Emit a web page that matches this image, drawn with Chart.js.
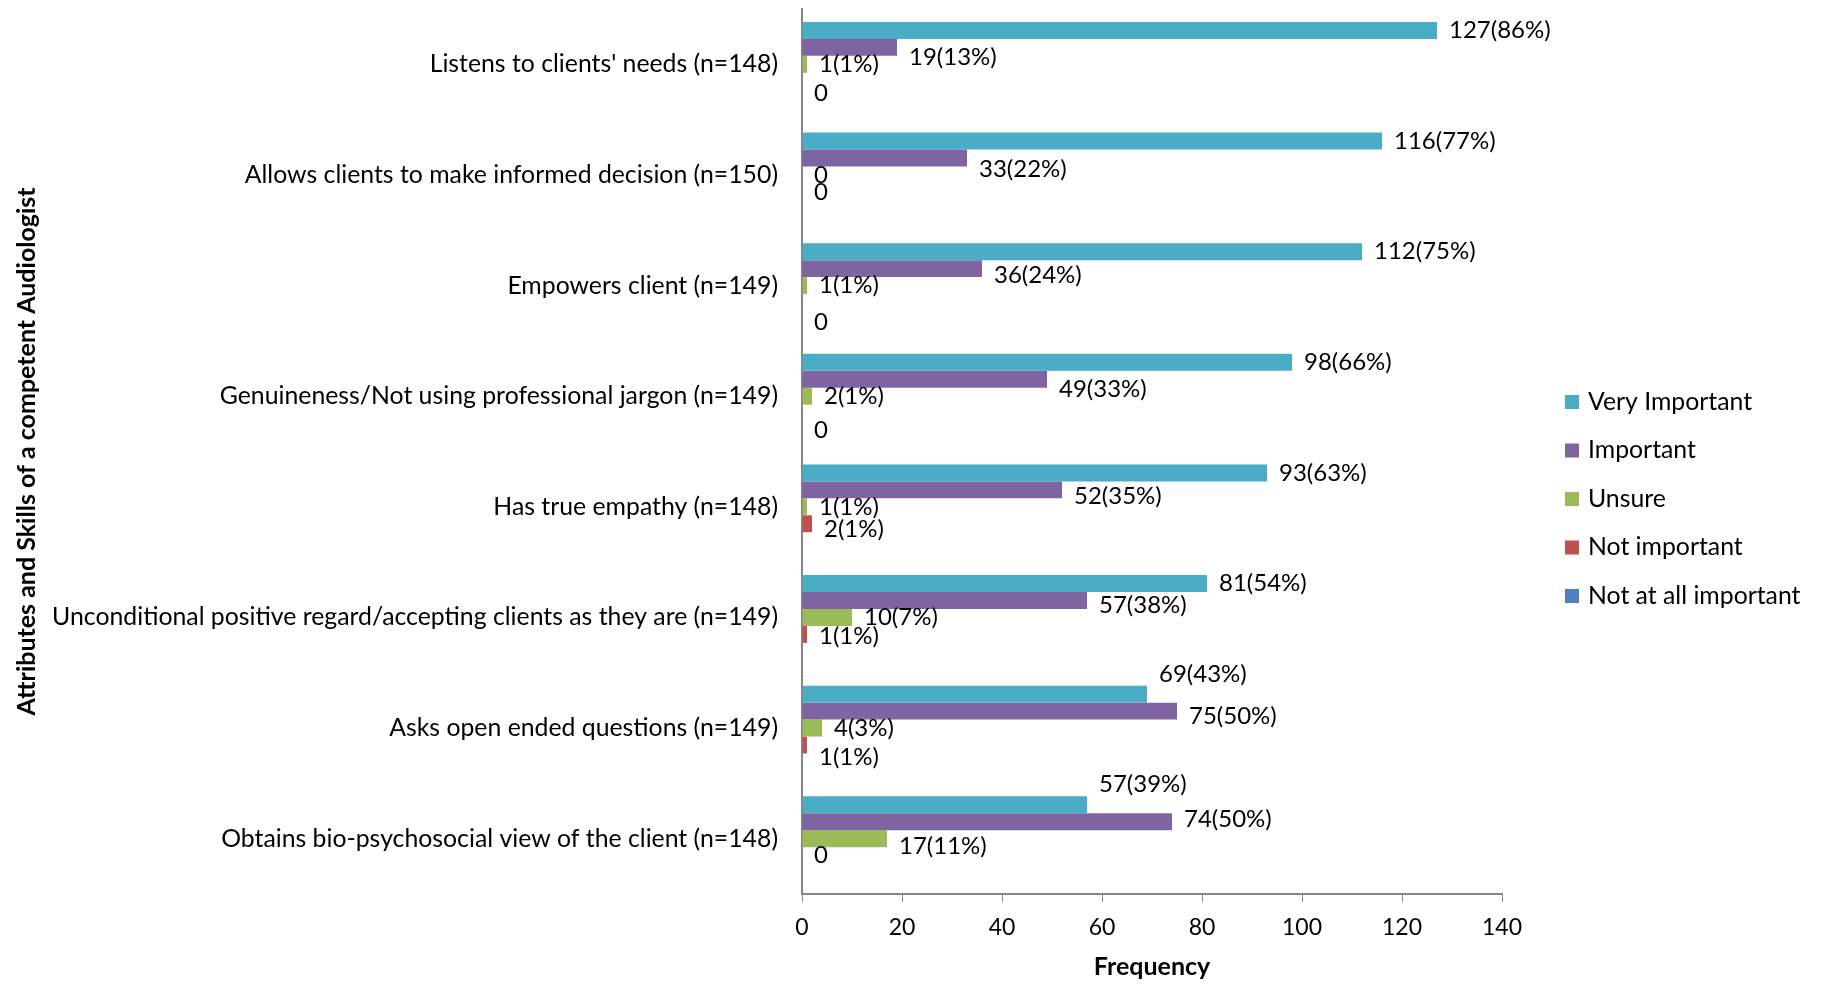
<!DOCTYPE html>
<html>
<head>
<meta charset="utf-8">
<title>Attributes and Skills of a competent Audiologist</title>
<script src="https://cdn.jsdelivr.net/npm/chart.js@4.4.1/dist/chart.umd.min.js"></script>
<style>
  html, body { margin: 0; padding: 0; background: #fff; }
  #wrap { width: 1823px; height: 984px; }
</style>
</head>
<body>
<div id="wrap"><canvas id="chart" width="1823" height="984"></canvas></div>
<script>
// Survey answers per attribute (frequency of each rating)
const categories = [
    "Listens to clients' needs (n=148)",
    'Allows clients to make informed decision (n=150)',
    'Empowers client (n=149)',
    'Genuineness/Not using professional jargon (n=149)',
    'Has true empathy (n=148)',
    'Unconditional positive regard/accepting clients as they are (n=149)',
    'Asks open ended questions (n=149)',
    'Obtains bio-psychosocial view of the client (n=148)'
];
const seriesNames = ['Very Important', 'Important', 'Unsure', 'Not important', 'Not at all important'];

const veryImportant = [127, 116, 112, 98, 93, 81, 69, 57];
const important     = [19, 33, 36, 49, 52, 57, 75, 74];
const unsure        = [1, 0, 1, 2, 1, 10, 4, 17];
const notImportant  = [0, 0, 0, 0, 2, 1, 1, 0];
const notAtAll      = [0, 0, 0, 0, 0, 0, 0, 0];

// Percentages printed next to the counts.
// null -> only the count is printed, false -> no label at all
const veryImportantPct = [86, 77, 75, 66, 63, 54, 43, 39];
const importantPct     = [13, 22, 24, 33, 35, 38, 50, 50];
const unsurePct        = [1, null, 1, 1, 1, 7, 3, 11];
const notImportantPct  = [false, null, false, false, 1, 1, 1, null];
const notAtAllPct      = [null, false, null, null, false, false, false, false];

const xTicks = [0, 20, 40, 60, 80, 100, 120, 140];

const colors = ['#4BACC6', '#8064A2', '#9BBB59', '#C0504D', '#4F81BD'];
const FONT = 'Lato, "Open Sans", sans-serif';

const seriesValues = [veryImportant, important, unsure, notImportant, notAtAll];
const seriesPct = [veryImportantPct, importantPct, unsurePct, notImportantPct, notAtAllPct];

// vertical nudges (px) for a few labels so they don't collide
const labelNudge = {
    0: [0, 0, 0, 0, 0, 0, -20, -21],
    1: [10, 11, 7, 10, 6, 5, 5, -2],
    2: [0, 0, 0, 0, 0, 0, 0, 8],
    3: [0, 0, 0, 0, 6, 2, 12, 0],
    4: [-5, 0, 3, 0, 0, 0, 0, 0]
};

const barLabels = {
    id: 'barLabels',
    afterDatasetsDraw(chart) {
        const ctx = chart.ctx;
        ctx.save();
        ctx.font = '24px ' + FONT;
        ctx.fillStyle = '#000';
        ctx.textAlign = 'left';
        ctx.textBaseline = 'middle';
        chart.data.datasets.forEach((ds, i) => {
            const meta = chart.getDatasetMeta(i);
            meta.data.forEach((bar, j) => {
                const pct = seriesPct[i][j];
                if (pct === false) return;
                const v = ds.data[j];
                const text = pct === null ? String(v) : v + '(' + pct + '%)';
                ctx.fillText(text, bar.x + 12, bar.y + labelNudge[i][j]);
            });
        });
        ctx.restore();
    }
};

const sideLegend = {
    id: 'sideLegend',
    afterDraw(chart) {
        const ctx = chart.ctx;
        const left = 1565, top = 402, gap = 48.5, box = 14;
        ctx.save();
        ctx.font = '24.8px ' + FONT;
        ctx.textBaseline = 'middle';
        ctx.textAlign = 'left';
        chart.data.datasets.forEach((ds, i) => {
            const y = top + i * gap;
            ctx.fillStyle = ds.backgroundColor;
            ctx.fillRect(left, y - box / 2, box, box);
            ctx.fillStyle = '#000';
            ctx.fillText(ds.label, left + box + 9, y);
        });
        ctx.restore();
    }
};

const ctx = document.getElementById('chart').getContext('2d');
new Chart(ctx, {
    type: 'bar',
    data: {
        labels: categories,
        datasets: seriesNames.map((name, i) => ({
            label: name,
            data: seriesValues[i],
            backgroundColor: colors[i],
            borderWidth: 0,
            categoryPercentage: 0.766,
            barPercentage: 1.0
        }))
    },
    options: {
        indexAxis: 'y',
        responsive: false,
        animation: false,
        layout: { padding: { top: 9, right: 321, bottom: 0, left: 0 } },
        plugins: {
            legend: { display: false },
            tooltip: { enabled: false }
        },
        scales: {
            x: {
                min: 0,
                max: 140,
                afterBuildTicks(scale) {
                    scale.ticks = xTicks.map(v => ({ value: v }));
                },
                afterFit(scale) { scale.height = 90; },
                grid: {
                    display: true,
                    drawOnChartArea: false,
                    drawTicks: true,
                    tickLength: 8,
                    color: '#868686'
                },
                border: { display: true, color: '#868686', width: 2 },
                ticks: {
                    color: '#000',
                    padding: 12,
                    font: { family: FONT, size: 23 }
                },
                title: {
                    display: true,
                    text: 'Frequency',
                    color: '#000',
                    padding: { top: 8, bottom: 2 },
                    font: { family: FONT, size: 25, weight: 'bold' }
                }
            },
            y: {
                afterFit(scale) {
                    scale.width = 802;
                    // labels sit in the middle of each band, no extra room needed
                    scale.paddingTop = 0;
                    scale.paddingBottom = 0;
                },
                grid: { display: false, drawTicks: false },
                border: { display: true, color: '#868686', width: 2 },
                ticks: {
                    color: '#000',
                    padding: 24,
                    autoSkip: false,
                    font: { family: FONT, size: 24.8 }
                },
                title: {
                    display: true,
                    text: 'Attributes and Skills of a competent Audiologist',
                    color: '#000',
                    padding: { top: 12, bottom: 0 },
                    font: { family: FONT, size: 25, weight: 'bold' }
                }
            }
        }
    },
    plugins: [barLabels, sideLegend]
});
</script>
</body>
</html>
